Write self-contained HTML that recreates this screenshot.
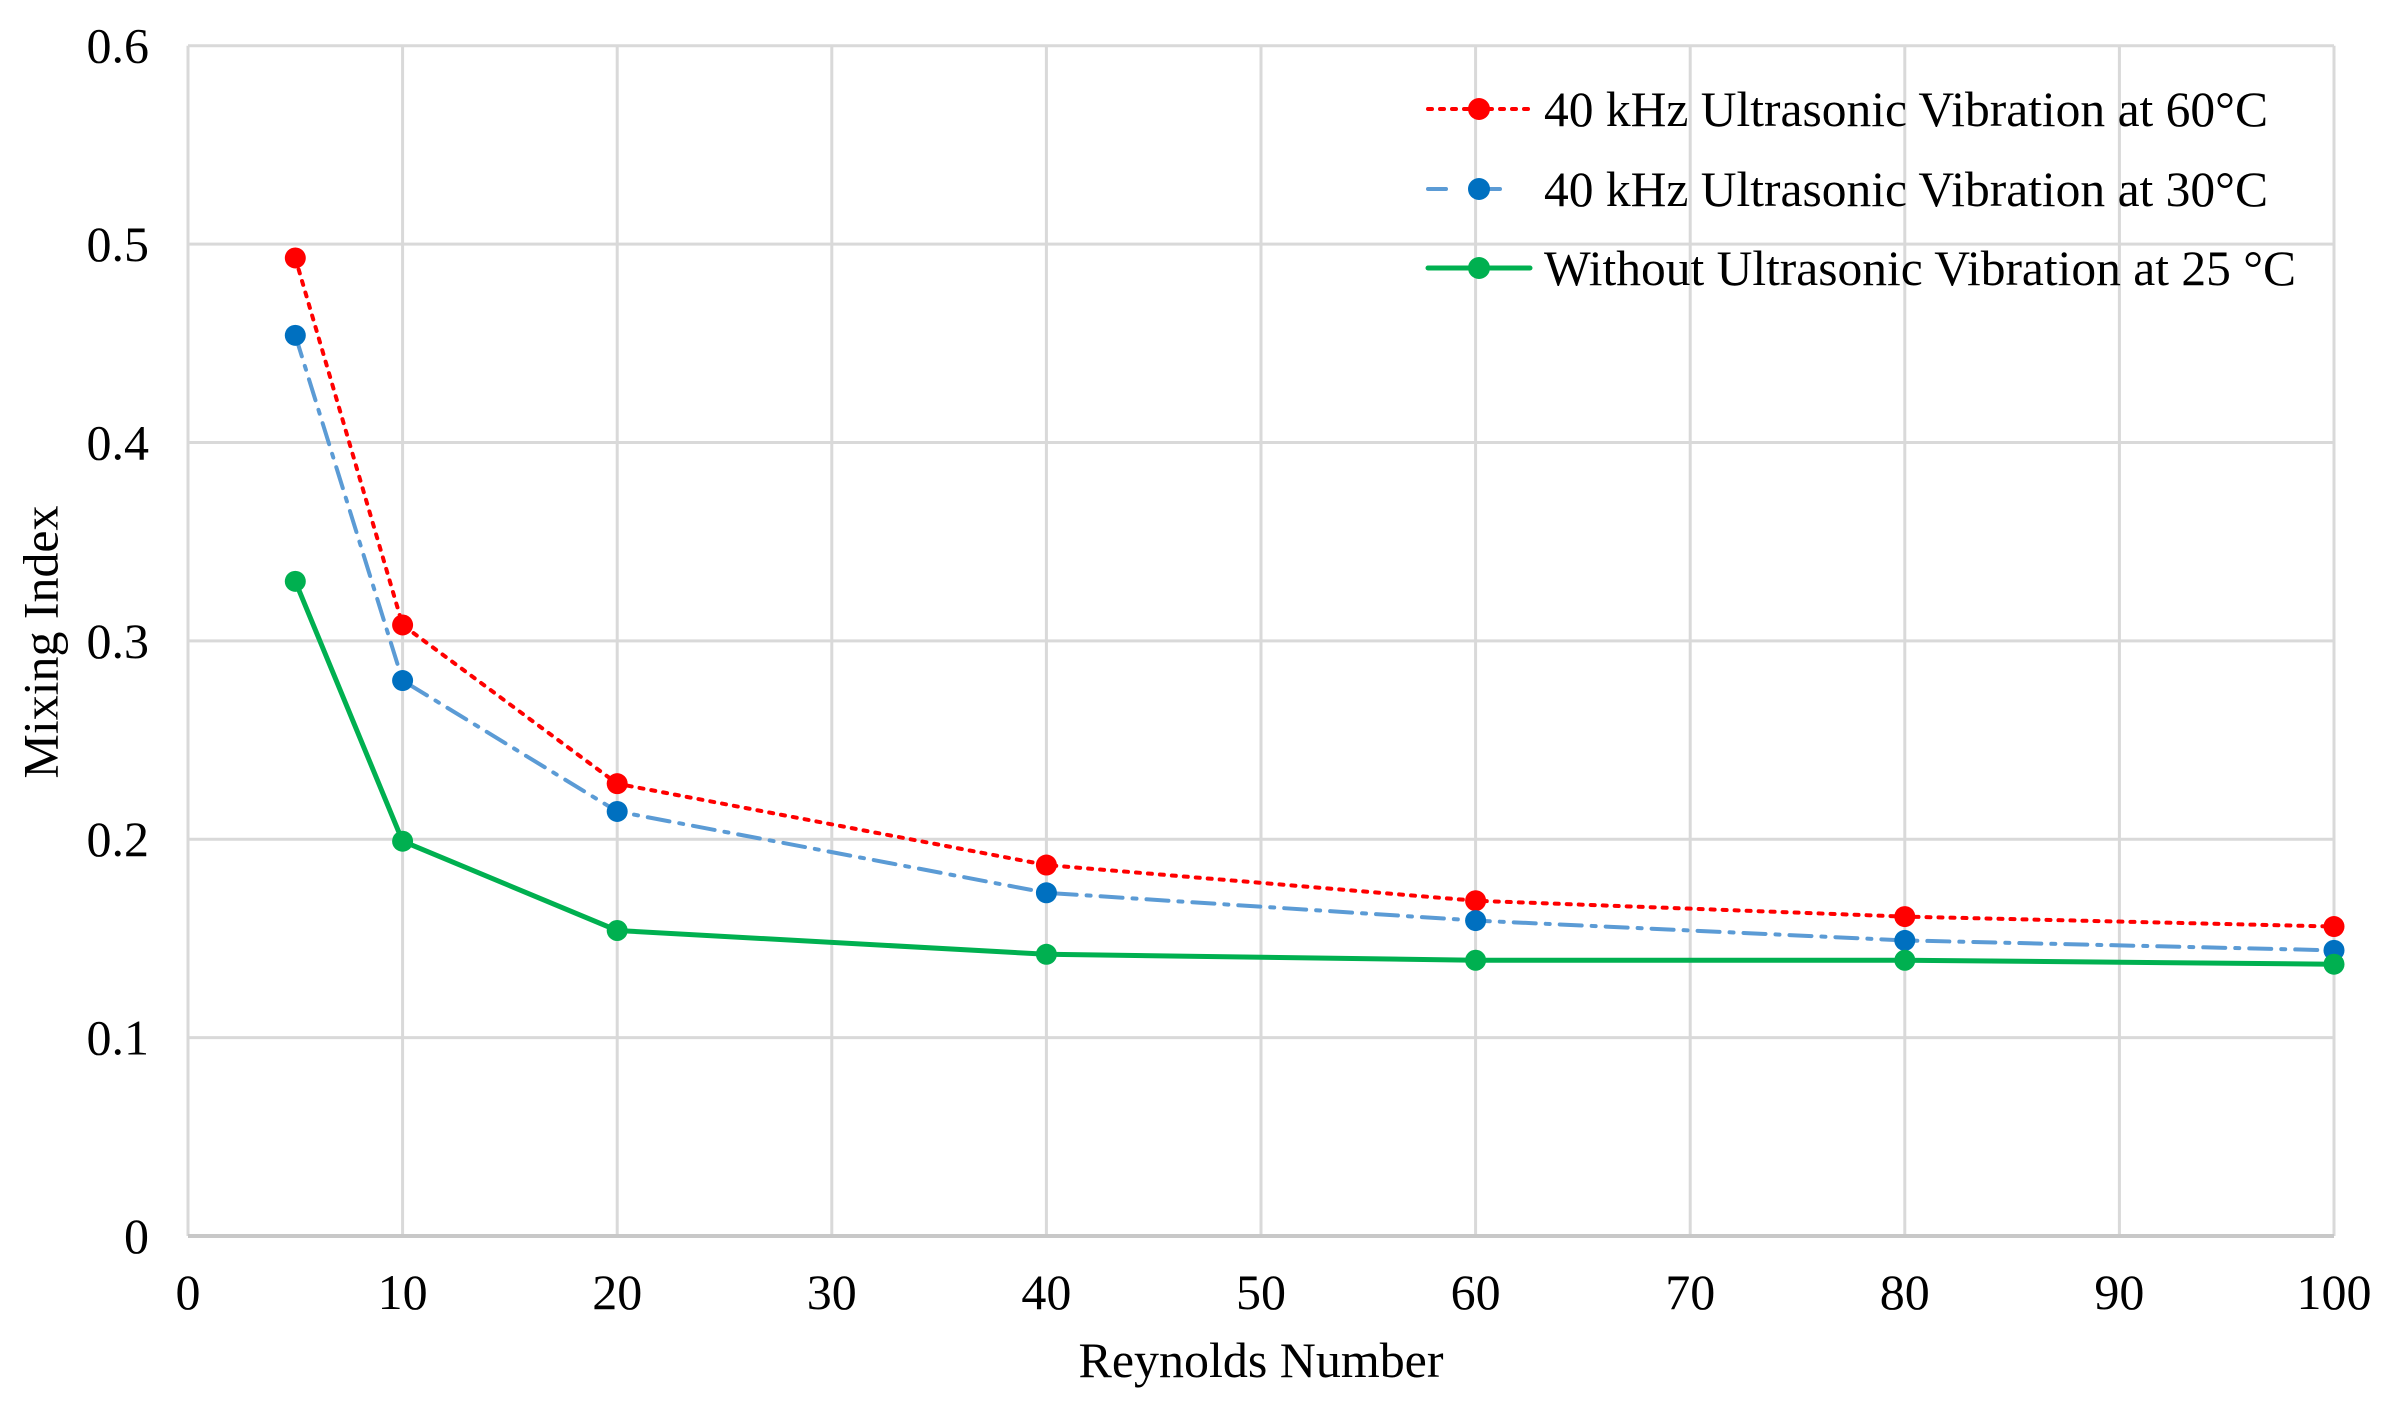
<!DOCTYPE html>
<html><head><meta charset="utf-8"><style>
html,body{margin:0;padding:0;background:#fff;}
svg{display:block;font-family:"Liberation Serif",serif;}
</style></head><body>
<svg id="chart" width="2408" height="1408" viewBox="0 0 2408 1408">
<g id="grid"></g>
<g id="axes"></g>
<g id="series"></g>
<text x="46" y="642" font-size="50" text-anchor="middle" transform="rotate(-90 46 642)" dominant-baseline="middle" textLength="273" lengthAdjust="spacingAndGlyphs">Mixing Index</text>
<text x="1261" y="1377" font-size="50" text-anchor="middle" textLength="365" lengthAdjust="spacingAndGlyphs">Reynolds Number</text>
<g id="legend"></g>
</svg>
<script>
const reynolds = [5, 10, 20, 40, 60, 80, 100];
const mix60 = [0.493, 0.308, 0.228, 0.187, 0.169, 0.161, 0.156];
const mix30 = [0.454, 0.280, 0.214, 0.173, 0.159, 0.149, 0.144];
const mix25 = [0.330, 0.199, 0.154, 0.142, 0.139, 0.139, 0.137];
const xTicks = [0,10,20,30,40,50,60,70,80,90,100];
const yTicks = [0,0.1,0.2,0.3,0.4,0.5,0.6];
const yTickLabels = ["0","0.1","0.2","0.3","0.4","0.5","0.6"];
const seriesNames = ["40 kHz Ultrasonic Vibration at 60°C","40 kHz Ultrasonic Vibration at 30°C","Without Ultrasonic Vibration at 25 °C"];

const L=188,R=2334,T=45.7,B=1236;
const xs=v=>L+(v-0)/(100-0)*(R-L);
const ys=v=>B-(v-0)/(0.6-0)*(B-T);
const NS="http://www.w3.org/2000/svg";
function mk(tag,attrs,parent){const e=document.createElementNS(NS,tag);for(const k in attrs)e.setAttribute(k,attrs[k]);parent.appendChild(e);return e;}
const grid=document.getElementById('grid'),axes=document.getElementById('axes'),ser=document.getElementById('series'),leg=document.getElementById('legend');

xTicks.forEach(t=>{
  const l=mk('line',{x1:xs(t),x2:xs(t),y1:T,y2:B,stroke:'#d9d9d9','stroke-width':3},grid);
  
  
  const tx=mk('text',{x:xs(t),y:1309,'font-size':50,'text-anchor':'middle'},axes);
  tx.textContent=t;
  
  
});
yTicks.forEach((t,i)=>{
  const l=mk('line',{x1:L,x2:R,y1:ys(t),y2:ys(t),stroke:'#d9d9d9','stroke-width':3},grid);
  
  
  const tx=mk('text',{x:149,y:ys(t)+17,'font-size':50,'text-anchor':'end'},axes);
  tx.textContent=yTickLabels[i];
  
  
});
const xa=mk('line',{x1:L,x2:R,y1:B,y2:B,stroke:'#c8c8c8','stroke-width':4},axes);



const styles=[
 {data:mix60,line:'#ff0000',mark:'#ff0000',dash:'4 8',w:4,cap:'round',ldash:'4 8'},
 {data:mix30,line:'#5b9bd5',mark:'#0070c0',dash:'22 10 4 10',w:4,cap:'round',ldash:'18 36'},
 {data:mix25,line:'#00b050',mark:'#00b050',dash:'none',w:5,cap:'round',ldash:'none'}
];
const legendRows=[109,189,268];
styles.forEach((s,si)=>{
  const g=mk('g',{},ser);
  
  
  const pts=reynolds.map((r,i)=>xs(r)+','+ys(s.data[i])).join(' ');
  const pl=mk('polyline',{points:pts,fill:'none',stroke:s.line,'stroke-width':s.w,'stroke-dasharray':s.dash,'stroke-linecap':s.cap},g);
  
  
  reynolds.forEach((r,i)=>{
    const c=mk('circle',{cx:xs(r),cy:ys(s.data[i]),r:10.5,fill:s.mark},g);
    
    
  });
  const ly=legendRows[si];
  const ll=mk('line',{x1:1428,x2:1530,y1:ly,y2:ly,stroke:s.line,'stroke-width':s.w,'stroke-dasharray':s.ldash,'stroke-linecap':s.cap},leg);
  
  
  const lc=mk('circle',{cx:1479,cy:ly,r:11,fill:s.mark},leg);
  
  
  const lt=mk('text',{x:1544,y:ly+17,'font-size':50,textLength:[724,724,752][si],lengthAdjust:'spacingAndGlyphs'},leg);
  lt.textContent=seriesNames[si];
  
  
});
</script>
</body></html>
